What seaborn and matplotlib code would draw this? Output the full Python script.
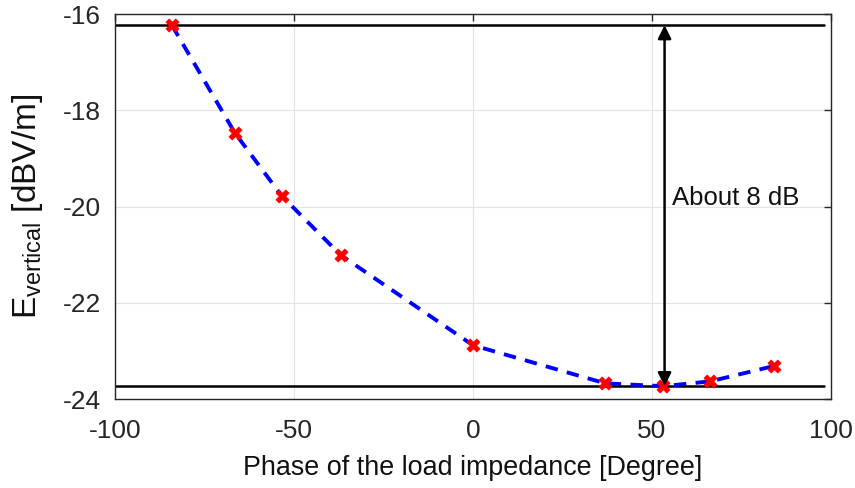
import matplotlib
matplotlib.use("Agg")
import matplotlib.pyplot as plt
import seaborn as sns
import pandas as pd

phase = [-84.1, -66.5, -53.4, -36.9, 0.0, 36.9, 53.1, 66.2, 84.1]
e_vertical = [-16.23, -18.47, -19.78, -21.01, -22.88, -23.67, -23.73, -23.63, -23.31]
ref_max = -16.23
ref_min = -23.73
arrow_x = 53.5
annotation = "About 8 dB"
x_ticks = [-100, -50, 0, 50, 100]
y_ticks = [-24, -22, -20, -18, -16]

df = pd.DataFrame({"phase": phase, "E": e_vertical})

sns.set_theme(style="whitegrid")
plt.rcParams["font.family"] = ["Liberation Sans", "DejaVu Sans"]
plt.rcParams["mathtext.fontset"] = "custom"
plt.rcParams["mathtext.rm"] = "Liberation Sans"
plt.rcParams["mathtext.it"] = "Liberation Sans"
plt.rcParams["axes.unicode_minus"] = False

fig = plt.figure(figsize=(8.55, 4.88), dpi=100)
ax = fig.add_axes([0.1345, 0.182, 0.8375, 0.789])

sns.lineplot(data=df, x="phase", y="E", ax=ax, color="#0000ff", lw=2.8,
             linestyle=(0, (3.2, 2.4)), zorder=3)
sns.scatterplot(data=df, x="phase", y="E", ax=ax, color="#ff0000", marker="X",
                s=90, edgecolor="#ff0000", linewidth=0.5, zorder=4)

ax.axhline(ref_max, color="black", lw=1.8, xmin=0, xmax=0.99, zorder=2)
ax.axhline(ref_min, color="black", lw=1.8, xmin=0, xmax=0.99, zorder=2)
ax.annotate("", xy=(arrow_x, ref_max), xytext=(arrow_x, ref_min),
            arrowprops=dict(arrowstyle="<|-|>", color="black", lw=1.8,
                            mutation_scale=20, shrinkA=0, shrinkB=0), zorder=5)
ax.text(arrow_x + 2.0, -19.83, annotation, fontsize=18.5, va="center", ha="left",
        color="#111111")

ax.set_xlim(-100, 100)
ax.set_ylim(-24, -16)
ax.set_xticks(x_ticks)
ax.set_yticks(y_ticks)
ax.tick_params(axis="both", labelsize=19, colors="#262626", direction="in",
               length=5, width=1, top=True, right=True)
ax.tick_params(axis="x", pad=14)
ax.tick_params(axis="y", pad=10)
ax.grid(True, color="#e3e3e3", lw=0.8)
for s in ax.spines.values():
    s.set_color("#262626")
    s.set_linewidth(1.0)
ax.set_facecolor("white")

ax.set_xlabel("Phase of the load impedance [Degree]", fontsize=19.4, color="#111111", labelpad=9)
ax.set_ylabel(r"E$_{\mathregular{vertical}}$ [dBV/m]", fontsize=24, color="#111111", labelpad=13)

fig.savefig("out.png", dpi=100, facecolor="white")
